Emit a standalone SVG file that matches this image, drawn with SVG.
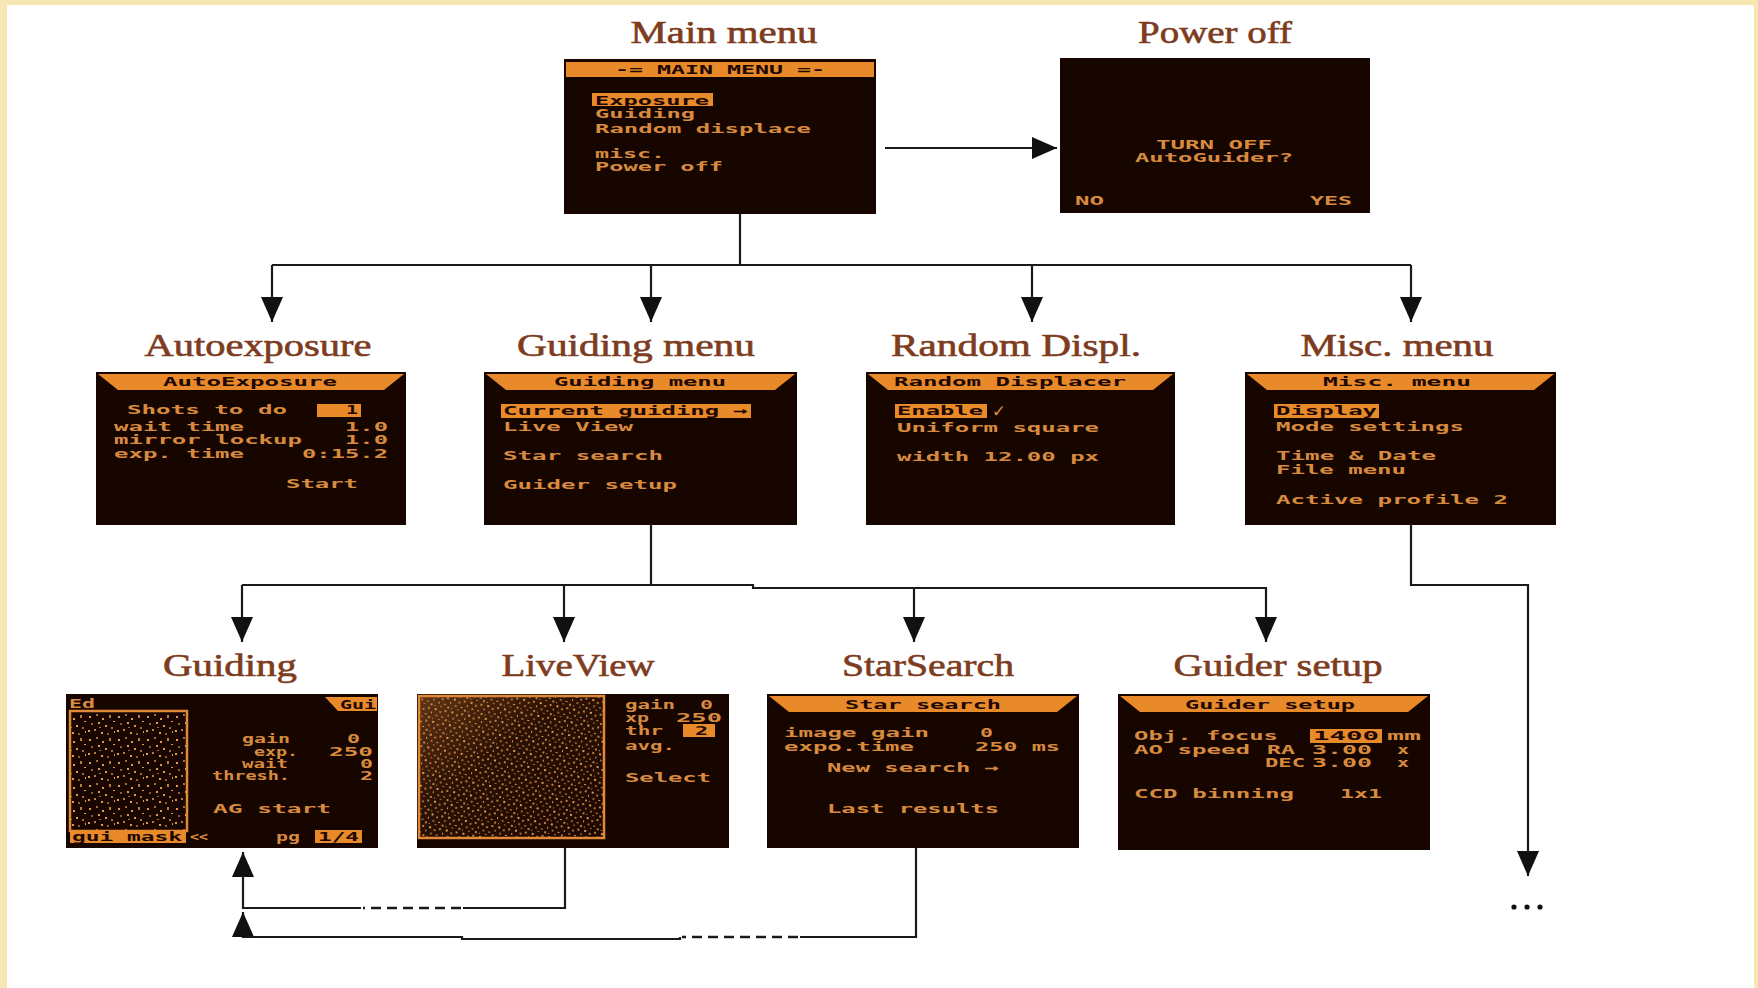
<svg xmlns="http://www.w3.org/2000/svg" width="1758" height="988" viewBox="0 0 1758 988">
<defs>
<style>
.title{font-family:"Liberation Serif","Times New Roman",serif;font-size:31px;fill:#7e3c1e;stroke:#7e3c1e;stroke-width:0.6;text-anchor:middle}
.scr{fill:#170500}
.hdr{fill:#e8892a}
.hl{fill:#e8892a}
.t{font-family:"DejaVu Sans Mono","Liberation Mono",monospace;font-size:13px;font-weight:bold;fill:#d88b3f}
.d{fill:#1d0700}
.e{text-anchor:end}
.m{text-anchor:middle}
.conn{stroke:#1a1a1a;stroke-width:2.2;fill:none}
.dash{stroke-dasharray:10 6;stroke-width:2.6}
.frame{stroke:#e0893a;stroke-width:2.5}
</style>
<marker id="ah" viewBox="0 0 25 22" refX="25" refY="11" markerWidth="25" markerHeight="22" markerUnits="userSpaceOnUse" orient="auto">
<path d="M0,0 L25,11 L0,22 z" fill="#111"/>
</marker>
<pattern id="stars1" width="29" height="23" patternUnits="userSpaceOnUse">
<rect width="29" height="23" fill="#1a0600"/>
<g fill="#e09a4a">
<rect x="2" y="3" width="2" height="2"/><rect x="9" y="1" width="2" height="2" opacity="0.7"/><rect x="15" y="5" width="2" height="2"/><rect x="22" y="2" width="2" height="3" opacity="0.8"/><rect x="26" y="8" width="2" height="1"/><rect x="4" y="10" width="2" height="2" opacity="0.6"/><rect x="11" y="9" width="2" height="2"/><rect x="18" y="12" width="2" height="2"/><rect x="24" y="14" width="2" height="2" opacity="0.7"/><rect x="1" y="17" width="2" height="2"/><rect x="7" y="16" width="2" height="2" opacity="0.8"/><rect x="14" y="19" width="2" height="2"/><rect x="20" y="20" width="2" height="2" opacity="0.6"/><rect x="27" y="18" width="1" height="2"/><rect x="12" y="14" width="2" height="1" opacity="0.7"/>
</g>
</pattern>
<pattern id="stars2" width="17" height="13" patternUnits="userSpaceOnUse" patternTransform="rotate(11)">
<rect width="17" height="13" fill="#1c0700"/>
<g fill="#e09a4a">
<rect x="1" y="1" width="2" height="2"/><rect x="6" y="3" width="2" height="2" opacity="0.7"/><rect x="11" y="1" width="2" height="2" opacity="0.8"/><rect x="15" y="5" width="1" height="2"/><rect x="3" y="7" width="2" height="2" opacity="0.6"/><rect x="9" y="8" width="2" height="1"/><rect x="13" y="10" width="2" height="2" opacity="0.8"/><rect x="0" y="11" width="1" height="1"/><rect x="6" y="11" width="2" height="1" opacity="0.7"/>
</g>
</pattern>
<linearGradient id="glow" x1="0" y1="0" x2="1" y2="1">
<stop offset="0" stop-color="#e0893a" stop-opacity="0.35"/>
<stop offset="0.4" stop-color="#e0893a" stop-opacity="0.08"/>
<stop offset="1" stop-color="#e0893a" stop-opacity="0"/>
</linearGradient>
</defs>

<rect x="0" y="0" width="1758" height="988" fill="#f6e7b3"/>
<rect x="7" y="5" width="1747" height="983" fill="#ffffff"/>

<g id="connectors">
<path class="conn" d="M885,148 H1057" marker-end="url(#ah)"/>
<path class="conn" d="M740,214 V265 M272,265 H1411"/>
<path class="conn" d="M272,265 V322" marker-end="url(#ah)"/>
<path class="conn" d="M651,265 V322" marker-end="url(#ah)"/>
<path class="conn" d="M1032,265 V322" marker-end="url(#ah)"/>
<path class="conn" d="M1411,265 V322" marker-end="url(#ah)"/>
<path class="conn" d="M651,525 V585 M242,585 H753 V588 H1267"/>
<path class="conn" d="M242,585 V642" marker-end="url(#ah)"/>
<path class="conn" d="M564,585 V642" marker-end="url(#ah)"/>
<path class="conn" d="M914,588 V642" marker-end="url(#ah)"/>
<path class="conn" d="M1266,588 V642" marker-end="url(#ah)"/>
<path class="conn" d="M1411,525 V585 H1528 V876" marker-end="url(#ah)"/>
<circle cx="1514" cy="907" r="2.6" fill="#111"/>
<circle cx="1527" cy="907" r="2.6" fill="#111"/>
<circle cx="1540" cy="907" r="2.6" fill="#111"/>
<path class="conn" d="M565,848 V908 H463"/>
<path class="conn dash" d="M461,908 H363"/>
<path class="conn" d="M361,908 H243 V852" marker-end="url(#ah)"/>
<path class="conn" d="M916,848 V937 H800"/>
<path class="conn dash" d="M798,937 H682"/>
<path class="conn" d="M680,937 V939 H462 V937 H243 V912" marker-end="url(#ah)"/>
</g>

<g id="main-menu">
<text class="title" x="724" y="43" textLength="187" lengthAdjust="spacingAndGlyphs">Main menu</text>
<rect class="scr" x="564" y="59" width="312" height="155"/>
<rect class="hdr" x="566" y="62" width="308" height="15"/>
<text class="t d m" x="720" y="74" textLength="210" lengthAdjust="spacingAndGlyphs">-= MAIN MENU =-</text>
<rect class="hl" x="592" y="93" width="121" height="13"/>
<text class="t d" x="595" y="105" textLength="114" lengthAdjust="spacingAndGlyphs">Exposure</text>
<text class="t" x="595" y="118" textLength="100" lengthAdjust="spacingAndGlyphs">Guiding</text>
<text class="t" x="595" y="133" textLength="216" lengthAdjust="spacingAndGlyphs">Random displace</text>
<text class="t" x="595" y="158" textLength="70" lengthAdjust="spacingAndGlyphs">misc.</text>
<text class="t" x="595" y="171" textLength="128" lengthAdjust="spacingAndGlyphs">Power off</text>
</g>

<g id="power-off">
<text class="title" x="1215" y="43" textLength="154" lengthAdjust="spacingAndGlyphs">Power off</text>
<rect class="scr" x="1060" y="58" width="310" height="155"/>
<text class="t m" x="1214" y="149" textLength="116" lengthAdjust="spacingAndGlyphs">TURN OFF</text>
<text class="t m" x="1214" y="162" textLength="158" lengthAdjust="spacingAndGlyphs">AutoGuider?</text>
<text class="t" x="1075" y="205" textLength="29" lengthAdjust="spacingAndGlyphs">NO</text>
<text class="t e" x="1352" y="205" textLength="42" lengthAdjust="spacingAndGlyphs">YES</text>
</g>

<g id="autoexposure">
<text class="title" x="258" y="356" textLength="227" lengthAdjust="spacingAndGlyphs">Autoexposure</text>
<rect class="scr" x="96" y="372" width="310" height="153"/>
<polygon class="hdr" points="98,374 404,374 384,390 118,390"/>
<text class="t d m" x="250" y="386" textLength="174" lengthAdjust="spacingAndGlyphs">AutoExposure</text>
<text class="t" x="127" y="414" textLength="160" lengthAdjust="spacingAndGlyphs">Shots to do</text>
<rect class="hl" x="317" y="404" width="44" height="13"/>
<text class="t d e" x="358" y="414" textLength="12" lengthAdjust="spacingAndGlyphs">1</text>
<text class="t" x="114" y="431" textLength="130" lengthAdjust="spacingAndGlyphs">wait time</text>
<text class="t e" x="388" y="431" textLength="43" lengthAdjust="spacingAndGlyphs">1.0</text>
<text class="t" x="114" y="444" textLength="188" lengthAdjust="spacingAndGlyphs">mirror lockup</text>
<text class="t e" x="388" y="444" textLength="43" lengthAdjust="spacingAndGlyphs">1.0</text>
<text class="t" x="114" y="458" textLength="130" lengthAdjust="spacingAndGlyphs">exp. time</text>
<text class="t e" x="388" y="458" textLength="86" lengthAdjust="spacingAndGlyphs">0:15.2</text>
<text class="t" x="286" y="488" textLength="72" lengthAdjust="spacingAndGlyphs">Start</text>
</g>

<g id="guiding-menu">
<text class="title" x="636" y="356" textLength="238" lengthAdjust="spacingAndGlyphs">Guiding menu</text>
<rect class="scr" x="484" y="372" width="313" height="153"/>
<polygon class="hdr" points="486,374 795,374 775,390 506,390"/>
<text class="t d m" x="640" y="386" textLength="172" lengthAdjust="spacingAndGlyphs">Guiding menu</text>
<rect class="hl" x="501" y="404" width="250" height="14"/>
<text class="t d" x="503" y="415" textLength="245" lengthAdjust="spacingAndGlyphs">Current guiding →</text>
<text class="t" x="503" y="431" textLength="130" lengthAdjust="spacingAndGlyphs">Live View</text>
<text class="t" x="503" y="460" textLength="160" lengthAdjust="spacingAndGlyphs">Star search</text>
<text class="t" x="503" y="489" textLength="174" lengthAdjust="spacingAndGlyphs">Guider setup</text>
</g>

<g id="random-displ">
<text class="title" x="1016" y="356" textLength="250" lengthAdjust="spacingAndGlyphs">Random Displ.</text>
<rect class="scr" x="866" y="372" width="309" height="153"/>
<polygon class="hdr" points="868,374 1173,374 1153,390 888,390"/>
<text class="t d m" x="1010" y="386" textLength="232" lengthAdjust="spacingAndGlyphs">Random Displacer</text>
<rect class="hl" x="895" y="404" width="92" height="14"/>
<text class="t d" x="897" y="415" textLength="86" lengthAdjust="spacingAndGlyphs">Enable</text>
<text class="t" x="993" y="417" style="font-size:19px">✓</text>
<text class="t" x="897" y="432" textLength="202" lengthAdjust="spacingAndGlyphs">Uniform square</text>
<text class="t" x="897" y="461" textLength="202" lengthAdjust="spacingAndGlyphs">width 12.00 px</text>
</g>

<g id="misc-menu">
<text class="title" x="1397" y="356" textLength="193" lengthAdjust="spacingAndGlyphs">Misc. menu</text>
<rect class="scr" x="1245" y="372" width="311" height="153"/>
<polygon class="hdr" points="1247,374 1554,374 1534,390 1267,390"/>
<text class="t d m" x="1397" y="386" textLength="148" lengthAdjust="spacingAndGlyphs">Misc. menu</text>
<rect class="hl" x="1274" y="404" width="105" height="14"/>
<text class="t d" x="1276" y="415" textLength="101" lengthAdjust="spacingAndGlyphs">Display</text>
<text class="t" x="1276" y="431" textLength="188" lengthAdjust="spacingAndGlyphs">Mode settings</text>
<text class="t" x="1276" y="460" textLength="160" lengthAdjust="spacingAndGlyphs">Time &amp; Date</text>
<text class="t" x="1276" y="474" textLength="130" lengthAdjust="spacingAndGlyphs">File menu</text>
<text class="t" x="1276" y="504" textLength="232" lengthAdjust="spacingAndGlyphs">Active profile 2</text>
</g>

<g id="guiding">
<text class="title" x="230" y="676" textLength="134" lengthAdjust="spacingAndGlyphs">Guiding</text>
<rect class="scr" x="66" y="694" width="312" height="154"/>
<rect x="70" y="711" width="117" height="120" fill="url(#stars1)" class="frame"/>
<text class="t" x="69" y="708" textLength="26" lengthAdjust="spacingAndGlyphs">Ed</text>
<polygon class="hl" points="325,697 377,697 377,711 338,711"/>
<text class="t d" x="340" y="709" textLength="36" lengthAdjust="spacingAndGlyphs">Gui</text>
<text class="t e" x="290" y="743" textLength="48" lengthAdjust="spacingAndGlyphs">gain</text>
<text class="t e" x="360" y="743" textLength="13" lengthAdjust="spacingAndGlyphs">0</text>
<text class="t e" x="298" y="756" textLength="44" lengthAdjust="spacingAndGlyphs">exp.</text>
<text class="t e" x="373" y="756" textLength="44" lengthAdjust="spacingAndGlyphs">250</text>
<text class="t e" x="288" y="768" textLength="46" lengthAdjust="spacingAndGlyphs">wait</text>
<text class="t e" x="373" y="768" textLength="13" lengthAdjust="spacingAndGlyphs">0</text>
<text class="t e" x="290" y="780" textLength="78" lengthAdjust="spacingAndGlyphs">thresh.</text>
<text class="t e" x="373" y="780" textLength="13" lengthAdjust="spacingAndGlyphs">2</text>
<text class="t" x="213" y="813" textLength="118" lengthAdjust="spacingAndGlyphs">AG start</text>
<rect class="hl" x="70" y="830" width="116" height="13"/>
<text class="t d" x="72" y="841" textLength="110" lengthAdjust="spacingAndGlyphs">gui mask</text>
<text class="t" x="190" y="841" textLength="18" lengthAdjust="spacingAndGlyphs">&lt;&lt;</text>
<text class="t" x="276" y="841" textLength="24" lengthAdjust="spacingAndGlyphs">pg</text>
<rect class="hl" x="315" y="830" width="47" height="13"/>
<text class="t d" x="318" y="841" textLength="41" lengthAdjust="spacingAndGlyphs">1/4</text>
</g>

<g id="liveview">
<text class="title" x="578" y="676" textLength="153" lengthAdjust="spacingAndGlyphs">LiveView</text>
<rect class="scr" x="417" y="694" width="312" height="154"/>
<rect x="419" y="696" width="185" height="142" fill="url(#stars2)" class="frame"/>
<rect x="420" y="697" width="183" height="140" fill="url(#glow)"/>
<text class="t" x="625" y="709" textLength="50" lengthAdjust="spacingAndGlyphs">gain</text>
<text class="t" x="700" y="709" textLength="13" lengthAdjust="spacingAndGlyphs">0</text>
<text class="t" x="625" y="722" textLength="24" lengthAdjust="spacingAndGlyphs">xp</text>
<text class="t" x="676" y="722" textLength="46" lengthAdjust="spacingAndGlyphs">250</text>
<text class="t" x="625" y="735" textLength="38" lengthAdjust="spacingAndGlyphs">thr</text>
<rect class="hl" x="683" y="724" width="32" height="13"/>
<text class="t d" x="695" y="735" textLength="13" lengthAdjust="spacingAndGlyphs">2</text>
<text class="t" x="625" y="750" textLength="50" lengthAdjust="spacingAndGlyphs">avg.</text>
<text class="t" x="625" y="782" textLength="86" lengthAdjust="spacingAndGlyphs">Select</text>
</g>

<g id="starsearch">
<text class="title" x="928" y="676" textLength="172" lengthAdjust="spacingAndGlyphs">StarSearch</text>
<rect class="scr" x="767" y="694" width="312" height="154"/>
<polygon class="hdr" points="769,696 1077,696 1057,712 789,712"/>
<text class="t d m" x="923" y="709" textLength="156" lengthAdjust="spacingAndGlyphs">Star search</text>
<text class="t" x="784" y="737" textLength="145" lengthAdjust="spacingAndGlyphs">image gain</text>
<text class="t" x="980" y="737" textLength="13" lengthAdjust="spacingAndGlyphs">0</text>
<text class="t" x="784" y="751" textLength="130" lengthAdjust="spacingAndGlyphs">expo.time</text>
<text class="t" x="975" y="751" textLength="85" lengthAdjust="spacingAndGlyphs">250 ms</text>
<text class="t" x="827" y="772" textLength="172" lengthAdjust="spacingAndGlyphs">New search →</text>
<text class="t" x="827" y="813" textLength="172" lengthAdjust="spacingAndGlyphs">Last results</text>
</g>

<g id="guider-setup">
<text class="title" x="1278" y="676" textLength="209" lengthAdjust="spacingAndGlyphs">Guider setup</text>
<rect class="scr" x="1118" y="694" width="312" height="156"/>
<polygon class="hdr" points="1120,696 1428,696 1408,712 1140,712"/>
<text class="t d m" x="1270" y="709" textLength="170" lengthAdjust="spacingAndGlyphs">Guider setup</text>
<text class="t" x="1134" y="740" textLength="144" lengthAdjust="spacingAndGlyphs">Obj. focus</text>
<rect class="hl" x="1310" y="729" width="72" height="14"/>
<text class="t d" x="1313" y="740" textLength="66" lengthAdjust="spacingAndGlyphs">1400</text>
<text class="t" x="1387" y="740" textLength="34" lengthAdjust="spacingAndGlyphs">mm</text>
<text class="t" x="1134" y="754" textLength="116" lengthAdjust="spacingAndGlyphs">AO speed</text>
<text class="t" x="1267" y="754" textLength="28" lengthAdjust="spacingAndGlyphs">RA</text>
<text class="t" x="1312" y="754" textLength="60" lengthAdjust="spacingAndGlyphs">3.00</text>
<text class="t" x="1397" y="754" textLength="12" lengthAdjust="spacingAndGlyphs">x</text>
<text class="t" x="1265" y="767" textLength="40" lengthAdjust="spacingAndGlyphs">DEC</text>
<text class="t" x="1312" y="767" textLength="60" lengthAdjust="spacingAndGlyphs">3.00</text>
<text class="t" x="1397" y="767" textLength="12" lengthAdjust="spacingAndGlyphs">x</text>
<text class="t" x="1134" y="798" textLength="160" lengthAdjust="spacingAndGlyphs">CCD binning</text>
<text class="t" x="1340" y="798" textLength="42" lengthAdjust="spacingAndGlyphs">1x1</text>
</g>
</svg>
